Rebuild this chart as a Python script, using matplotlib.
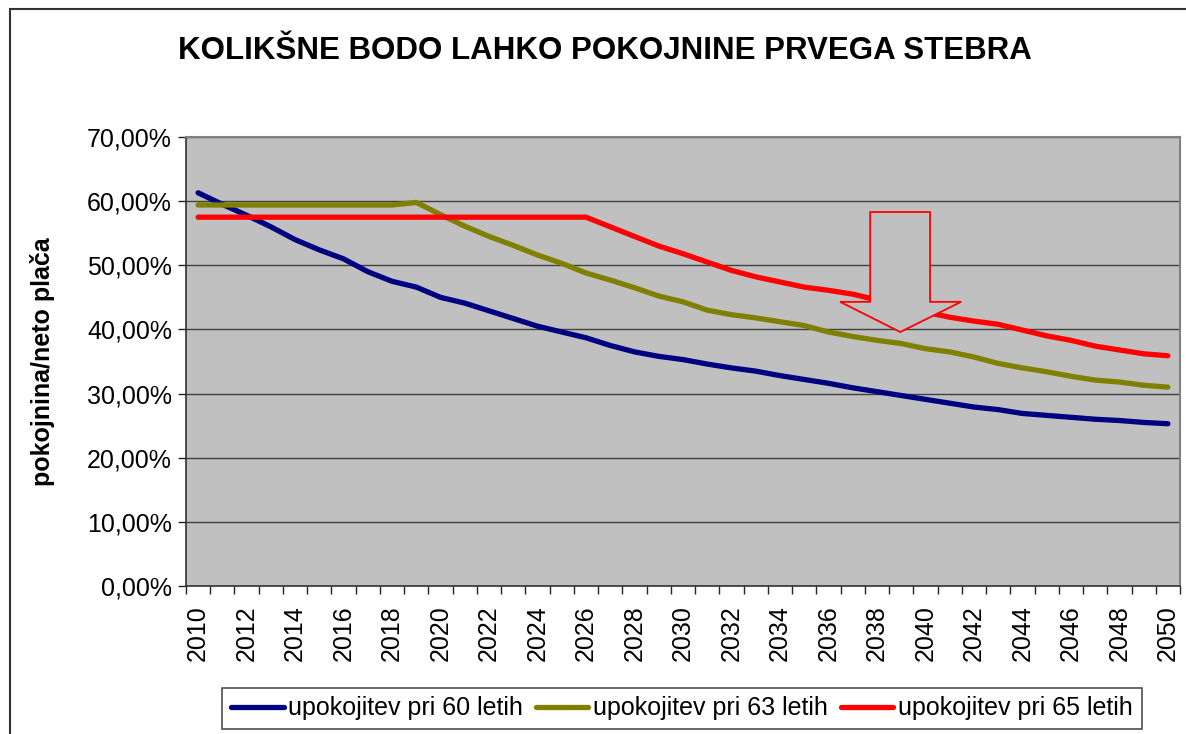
import numpy as np
import matplotlib.pyplot as plt
from matplotlib.patches import Polygon, Rectangle
from matplotlib.ticker import FuncFormatter, FixedLocator

plt.rcParams['font.family'] = ['Liberation Sans', 'DejaVu Sans']

years = list(range(2010, 2051))

# upokojitev pri 60 letih
age60 = [61.3, 59.5, 57.8, 56.0, 54.0, 52.4, 51.0, 49.0, 47.5, 46.6,
         45.0, 44.1, 42.9, 41.7, 40.5, 39.6, 38.7, 37.5, 36.5, 35.8,
         35.3, 34.6, 34.0, 33.5, 32.8, 32.2, 31.6, 30.9, 30.3, 29.7,
         29.1, 28.5, 27.9, 27.5, 26.9, 26.6, 26.3, 26.0, 25.8, 25.5, 25.3]
# upokojitev pri 63 letih
age63 = [59.4, 59.4, 59.4, 59.4, 59.4, 59.4, 59.4, 59.4, 59.4, 59.8,
         57.9, 56.1, 54.5, 53.1, 51.6, 50.3, 48.8, 47.7, 46.5, 45.2,
         44.3, 43.0, 42.3, 41.8, 41.2, 40.6, 39.6, 38.9, 38.3, 37.8,
         37.0, 36.5, 35.7, 34.7, 34.0, 33.4, 32.7, 32.1, 31.8, 31.3, 31.0]
# upokojitev pri 65 letih
age65 = [57.5, 57.5, 57.5, 57.5, 57.5, 57.5, 57.5, 57.5, 57.5, 57.5,
         57.5, 57.5, 57.5, 57.5, 57.5, 57.5, 57.5, 56.0, 54.5, 53.0,
         51.8, 50.5, 49.2, 48.2, 47.4, 46.6, 46.1, 45.5, 44.6, 43.6,
         42.7, 41.9, 41.3, 40.8, 39.9, 39.0, 38.3, 37.4, 36.8, 36.2, 35.9]

labels = ['upokojitev pri 60 letih', 'upokojitev pri 63 letih', 'upokojitev pri 65 letih']
colors = ['#000080', '#808000', '#FF0000']

# down arrow annotation (category index, percent)
arrow_x = [27.72, 30.19, 30.19, 31.47, 28.96, 26.48, 27.72]
arrow_y = [58.3, 58.3, 44.3, 44.3, 39.6, 44.3, 44.3]

fig = plt.figure(figsize=(11.86, 7.34), dpi=100)
ax = fig.add_axes([186/1186, 1-586/734, (1180-186)/1186, (586-137)/734])
ax.set_facecolor('#C0C0C0')

x = np.arange(len(years))
for vals, lab, col in zip([age60, age63, age65], labels, colors):
    ax.plot(x, vals, color=col, lw=3.8, label=lab, solid_capstyle='round',
            solid_joinstyle='round', zorder=3)

ax.add_patch(Polygon(list(zip(arrow_x, arrow_y)), closed=True,
                     facecolor='#C0C0C0', edgecolor='#FF0000', lw=1.3, zorder=4))

ax.set_xlim(-0.5, len(years) - 0.5)
ax.set_ylim(0, 70)
ax.set_yticks(np.arange(0, 71, 10))
ax.yaxis.set_major_formatter(FuncFormatter(lambda v, p: f'{v:.2f}'.replace('.', ',') + '%'))
ax.grid(axis='y', color='#404040', lw=1.0, zorder=1)
ax.set_axisbelow(True)

ax.set_xticks(x[::2])
ax.set_xticklabels([str(y) for y in years[::2]], rotation=90, fontsize=18)
ax.xaxis.set_minor_locator(FixedLocator(np.arange(-0.5, len(years), 1)))
ax.tick_params(axis='x', which='major', length=0, pad=14)
ax.tick_params(axis='x', which='minor', length=6, width=1, color='#222222')
ax.tick_params(axis='y', labelsize=18, length=6, width=1, color='#222222', pad=4)

for s in ['left', 'bottom']:
    ax.spines[s].set_color('#333333')
    ax.spines[s].set_linewidth(1.2)
for s in ['top', 'right']:
    ax.spines[s].set_color('#808080')
    ax.spines[s].set_linewidth(1.5)

ax.set_ylabel('pokojnina/neto plača', fontsize=18, fontweight='bold')
ax.yaxis.set_label_coords((55 - 186) / 994, 0.5)

fig.text(605/1186, 1-51/734, 'KOLIKŠNE BODO LAHKO POKOJNINE PRVEGA STEBRA',
         ha='center', va='center', fontsize=22.5, fontweight='bold')

leg = fig.legend(loc='center', bbox_to_anchor=(682/1186, 1-708.5/734), ncol=3,
                 fontsize=18, frameon=True, fancybox=False, edgecolor='#222222',
                 handlelength=2.1, handletextpad=0.2, columnspacing=0.5,
                 borderpad=0.35, borderaxespad=0)
leg.get_frame().set_linewidth(1.2)

fig.patches.append(Rectangle((10/1186, -0.1), 1.2, 1-9/734 + 0.1, transform=fig.transFigure,
                             fill=False, edgecolor='#333333', lw=1.5))

fig.savefig('out.png', dpi=100)
